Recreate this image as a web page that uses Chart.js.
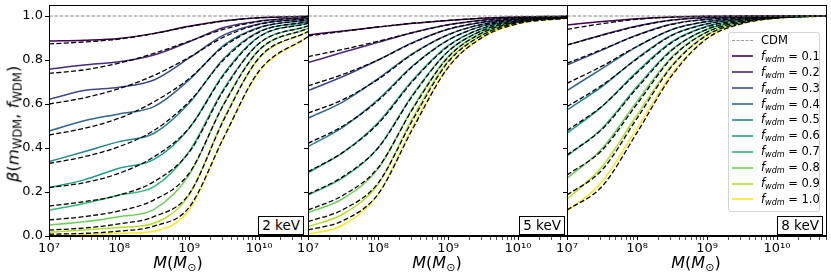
<!DOCTYPE html>
<html>
<head>
<meta charset="utf-8">
<script src="https://cdn.jsdelivr.net/npm/chart.js@4.4.1/dist/chart.umd.min.js"></script>
<style>
  body { margin: 0; background: #fff; width: 831px; height: 278px; overflow: hidden; position: relative;
         font-family: "DejaVu Sans", sans-serif; color: #000; }
  canvas { position: absolute; top: 0; }
  .xtitle { position: absolute; top: 253px; font-size: 16px; transform: translateX(-50%); white-space: nowrap; }
  .ytitle { position: absolute; left: 14px; top: 124px; font-size: 16.5px; white-space: nowrap;
            transform: translate(-50%, -50%) rotate(-90deg); }
  sub { font-size: 70%; vertical-align: -0.25em; }
  .keV { position: absolute; top: 216px; height: 17px; line-height: 17px; padding: 0 3px; font-size: 13.5px;
         border: 1px solid #000; background: #fff; }
  #legend { position: absolute; left: 728px; top: 32px; width: 90px; padding-bottom: 3px;
            border: 1px solid #d3d3d3; border-radius: 3px; background: rgba(255,255,255,0.85); font-size: 11.5px; }
  #legend .row { height: 15.9px; line-height: 15.9px; white-space: nowrap; }
  #legend .sw { display: inline-block; width: 21px; margin: 0 8px 0 3px; vertical-align: middle; height: 2px; }
</style>
</head>
<body>
<canvas id="p1" width="308" height="278" style="left:0px"></canvas>
<canvas id="p2" width="279" height="278" style="left:288px"></canvas>
<canvas id="p3" width="284" height="278" style="left:547px"></canvas>

<div class="ytitle"><i>β</i>(<i>m</i><sub>WDM</sub>, <i>f</i><sub>WDM</sub>)</div>
<div class="xtitle" style="left:178px"><i>M</i>(<i>M</i><sub>⊙</sub>)</div>
<div class="xtitle" style="left:437px"><i>M</i>(<i>M</i><sub>⊙</sub>)</div>
<div class="xtitle" style="left:696px"><i>M</i>(<i>M</i><sub>⊙</sub>)</div>
<div id="legend"></div>

<script>
// halo mass grid (Msun) the curves are read at
const massGrid = [1e7, 3.16e7, 1e8, 3.16e8, 1e9, 3.16e9, 1e10, 5e10];
const fwdmValues = [0.1, 0.2, 0.3, 0.4, 0.5, 0.6, 0.7, 0.8, 0.9, 1.0];
const panelLabels = ['2 keV', '5 keV', '8 keV'];

// 2 keV: simulation (coloured) and fit (dashed)
const sim2keV = [
  [0.886, 0.890, 0.898, 0.921, 0.953, 0.978, 0.992, 0.999],
  [0.758, 0.777, 0.792, 0.823, 0.883, 0.948, 0.977, 0.993],
  [0.621, 0.661, 0.676, 0.709, 0.808, 0.914, 0.964, 0.988],
  [0.477, 0.524, 0.555, 0.588, 0.709, 0.868, 0.948, 0.982],
  [0.338, 0.383, 0.429, 0.467, 0.603, 0.808, 0.929, 0.974],
  [0.220, 0.255, 0.308, 0.348, 0.489, 0.739, 0.906, 0.967],
  [0.118, 0.148, 0.186, 0.224, 0.383, 0.671, 0.876, 0.955],
  [0.050, 0.065, 0.088, 0.121, 0.277, 0.603, 0.845, 0.944],
  [0.017, 0.027, 0.039, 0.058, 0.186, 0.535, 0.808, 0.929],
  [0.003, 0.006, 0.012, 0.022, 0.118, 0.452, 0.747, 0.906]
];
const fit2keV = [
  [0.873, 0.882, 0.895, 0.920, 0.952, 0.977, 0.992, 0.999],
  [0.739, 0.755, 0.786, 0.830, 0.885, 0.940, 0.975, 0.993],
  [0.600, 0.628, 0.670, 0.730, 0.812, 0.905, 0.962, 0.988],
  [0.459, 0.489, 0.535, 0.610, 0.715, 0.862, 0.946, 0.982],
  [0.330, 0.360, 0.406, 0.480, 0.610, 0.802, 0.927, 0.974],
  [0.220, 0.242, 0.285, 0.360, 0.490, 0.733, 0.905, 0.967],
  [0.136, 0.156, 0.186, 0.247, 0.380, 0.665, 0.875, 0.955],
  [0.073, 0.088, 0.114, 0.164, 0.285, 0.600, 0.845, 0.944],
  [0.027, 0.036, 0.055, 0.088, 0.190, 0.530, 0.810, 0.929],
  [0.008, 0.012, 0.022, 0.045, 0.130, 0.450, 0.750, 0.906]
];

// 5 keV
const sim5keV = [
  [0.914, 0.932, 0.950, 0.967, 0.980, 0.990, 0.996, 0.999],
  [0.788, 0.835, 0.880, 0.925, 0.960, 0.981, 0.992, 0.998],
  [0.661, 0.725, 0.800, 0.880, 0.940, 0.972, 0.988, 0.997],
  [0.535, 0.610, 0.715, 0.830, 0.915, 0.963, 0.985, 0.996],
  [0.406, 0.495, 0.620, 0.775, 0.890, 0.955, 0.982, 0.995],
  [0.288, 0.380, 0.515, 0.710, 0.865, 0.945, 0.979, 0.994],
  [0.186, 0.265, 0.400, 0.645, 0.840, 0.935, 0.976, 0.993],
  [0.106, 0.170, 0.305, 0.585, 0.815, 0.925, 0.973, 0.992],
  [0.042, 0.100, 0.235, 0.540, 0.795, 0.915, 0.970, 0.991],
  [0.008, 0.050, 0.190, 0.500, 0.770, 0.905, 0.965, 0.990]
];
const fit5keV = [
  [0.909, 0.930, 0.950, 0.967, 0.980, 0.990, 0.996, 0.999],
  [0.815, 0.848, 0.885, 0.925, 0.960, 0.981, 0.992, 0.998],
  [0.682, 0.735, 0.800, 0.878, 0.940, 0.972, 0.988, 0.997],
  [0.558, 0.620, 0.712, 0.828, 0.915, 0.963, 0.985, 0.996],
  [0.421, 0.500, 0.615, 0.772, 0.890, 0.955, 0.982, 0.995],
  [0.292, 0.380, 0.510, 0.705, 0.862, 0.945, 0.979, 0.994],
  [0.189, 0.270, 0.400, 0.640, 0.838, 0.935, 0.976, 0.993],
  [0.118, 0.185, 0.310, 0.580, 0.812, 0.925, 0.973, 0.992],
  [0.065, 0.120, 0.240, 0.530, 0.790, 0.915, 0.970, 0.991],
  [0.027, 0.070, 0.190, 0.490, 0.765, 0.905, 0.965, 0.990]
];

// 8 keV
const sim8keV = [
  [0.959, 0.975, 0.988, 0.996, 0.999, 1.000, 1.000, 1.000],
  [0.868, 0.914, 0.955, 0.982, 0.993, 0.997, 0.999, 1.000],
  [0.777, 0.845, 0.914, 0.964, 0.985, 0.994, 0.998, 1.000],
  [0.661, 0.761, 0.861, 0.939, 0.975, 0.990, 0.997, 1.000],
  [0.573, 0.679, 0.808, 0.914, 0.965, 0.986, 0.996, 1.000],
  [0.467, 0.588, 0.747, 0.883, 0.953, 0.982, 0.995, 1.000],
  [0.364, 0.489, 0.679, 0.848, 0.940, 0.978, 0.994, 1.000],
  [0.262, 0.397, 0.612, 0.815, 0.928, 0.974, 0.993, 1.000],
  [0.167, 0.315, 0.550, 0.777, 0.915, 0.970, 0.992, 1.000],
  [0.111, 0.247, 0.489, 0.739, 0.900, 0.966, 0.990, 1.000]
];
const fit8keV = [
  [0.939, 0.965, 0.985, 0.995, 0.999, 1.000, 1.000, 1.000],
  [0.868, 0.912, 0.953, 0.981, 0.993, 0.997, 0.999, 1.000],
  [0.785, 0.848, 0.912, 0.962, 0.985, 0.994, 0.998, 1.000],
  [0.694, 0.772, 0.862, 0.938, 0.975, 0.990, 0.997, 1.000],
  [0.588, 0.685, 0.805, 0.912, 0.964, 0.986, 0.996, 1.000],
  [0.479, 0.590, 0.742, 0.880, 0.952, 0.982, 0.995, 1.000],
  [0.368, 0.485, 0.672, 0.845, 0.940, 0.978, 0.994, 1.000],
  [0.277, 0.390, 0.600, 0.810, 0.927, 0.974, 0.993, 1.000],
  [0.186, 0.300, 0.535, 0.772, 0.913, 0.970, 0.992, 1.000],
  [0.118, 0.225, 0.470, 0.730, 0.898, 0.965, 0.990, 1.000]
];

// axis ticks
const xMin = 1e7, xMax = 5e10;
const xMajorTicks = [1e7, 1e8, 1e9, 1e10];
const xMajorLabels = ['10⁷', '10⁸', '10⁹', '10¹⁰'];
const yTicks = [0, 0.2, 0.4, 0.6, 0.8, 1.0];
const yTickLabels = ['0.0', '0.2', '0.4', '0.6', '0.8', '1.0'];

const viridis = ['#440154', '#482878', '#3e4989', '#31688e', '#26828e',
                 '#1f9e89', '#35b779', '#6ece58', '#b5de2b', '#fde725'];

const xTickValues = [];
for (let e = 7; e <= 10; e++) {
  for (let m = 1; m <= 9; m++) {
    const v = Number(m + 'e' + e);
    if (v <= xMax) xTickValues.push(v);
  }
}

Chart.defaults.font.family = 'DejaVu Sans';
Chart.defaults.color = '#000';

const frame = {
  id: 'frame',
  afterDraw(chart) {
    const a = chart.chartArea, ctx = chart.ctx;
    ctx.save();
    ctx.strokeStyle = '#000';
    ctx.lineWidth = 1;
    ctx.strokeRect(Math.round(a.left) + 0.5, Math.round(a.top) + 0.5,
                   Math.round(a.right - a.left), Math.round(a.bottom - a.top) - 1);
    ctx.restore();
  }
};

function toPoints(arr) {
  return arr.map((y, j) => ({ x: massGrid[j], y: y }));
}

function makePanel(id, sim, fit, yWidth, padRight, showYLabels) {
  const datasets = [{
    data: [{ x: xMin, y: 1 }, { x: xMax, y: 1 }],
    borderColor: '#888', borderWidth: 1, borderDash: [3.7, 1.6], order: 0
  }];
  fit.forEach(row => datasets.push({
    data: toPoints(row), borderColor: '#000', borderWidth: 1.3,
    borderDash: [5, 2.4], cubicInterpolationMode: 'monotone', order: 1
  }));
  sim.forEach((row, i) => datasets.push({
    data: toPoints(row), borderColor: viridis[i], borderWidth: 1.5,
    cubicInterpolationMode: 'monotone', order: 2
  }));

  new Chart(document.getElementById(id), {
    type: 'line',
    data: { datasets: datasets },
    options: {
      responsive: false,
      animation: false,
      devicePixelRatio: 1,
      layout: { padding: { top: 5, right: padRight, left: 0, bottom: 0 } },
      elements: { point: { radius: 0 } },
      plugins: { legend: { display: false }, tooltip: { enabled: false } },
      scales: {
        x: {
          type: 'logarithmic', min: xMin, max: xMax,
          afterBuildTicks: s => { s.ticks = xTickValues.map(v => ({ value: v })); },
          afterFit: s => { s.height = 42; s.paddingLeft = 0; s.paddingRight = 0; },
          ticks: {
            autoSkip: false, maxRotation: 0, padding: 1,
            font: { size: 13 },
            callback: v => {
              const k = xMajorTicks.indexOf(v);
              return k >= 0 ? xMajorLabels[k] : '';
            }
          },
          grid: { drawOnChartArea: false, tickLength: 4, color: '#000',
                  lineWidth: c => (xMajorTicks.indexOf(c.tick && c.tick.value) >= 0 ? 1 : 0.7) },
          border: { color: '#000' }
        },
        y: {
          min: 0, max: 1.05,
          afterBuildTicks: s => { s.ticks = yTicks.map(v => ({ value: v })); },
          afterFit: s => { s.width = yWidth; s.paddingTop = 0; s.paddingBottom = 0; },
          ticks: {
            display: showYLabels, padding: 2, font: { size: 13 },
            callback: (v, i) => yTickLabels[i]
          },
          grid: { drawOnChartArea: false, tickLength: 4, color: '#000' },
          border: { color: '#000' }
        }
      }
    },
    plugins: [frame]
  });
}

makePanel('p1', sim2keV, fit2keV, 49, 0, true);
makePanel('p2', sim5keV, fit5keV, 20, 0, false);
makePanel('p3', sim8keV, fit8keV, 20, 5, false);

// energy boxes
const boxRight = [304, 565, 823];
panelLabels.forEach((t, i) => {
  const d = document.createElement('div');
  d.className = 'keV';
  d.textContent = t;
  d.style.right = (831 - boxRight[i]) + 'px';
  document.body.appendChild(d);
});

// legend
const legend = document.getElementById('legend');
legend.innerHTML = '<div class="row"><span class="sw" style="height:0;border-top:1.3px dashed #999"></span>CDM</div>' +
  fwdmValues.map((f, i) =>
    '<div class="row"><span class="sw" style="opacity:0.8;background:' + viridis[i] + '"></span>' +
    '<i>f</i><sub><i>wdm</i></sub> = ' + f.toFixed(1) + '</div>').join('');
</script>
</body>
</html>
